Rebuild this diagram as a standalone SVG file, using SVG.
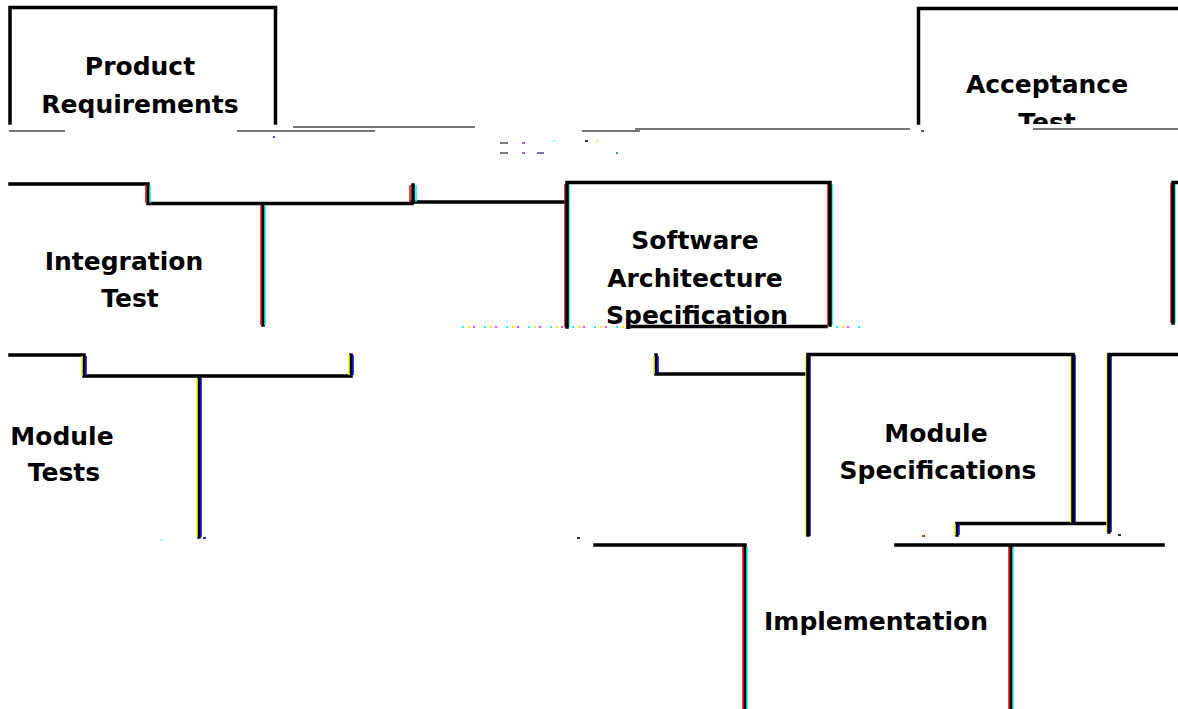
<svg xmlns="http://www.w3.org/2000/svg" width="1178" height="709" viewBox="0 0 1178 709">
<style>
.ln{fill:none;stroke:#000;stroke-width:3.5;stroke-linecap:square}
.gr{fill:none;stroke:#777;stroke-width:2}
.fr{fill:none;stroke:#e00;stroke-width:1.5}
.fc{fill:none;stroke:#0ee;stroke-width:1.5}
.fy{fill:none;stroke:#ee0;stroke-width:1.5}
.fb{fill:none;stroke:#00e;stroke-width:1.5}
.t{font-family:"DejaVu Sans",Verdana,sans-serif;font-weight:bold;font-size:25px;fill:#000;text-anchor:middle}
</style>
<defs>
<clipPath id="clipAcc"><rect x="900" y="0" width="278" height="124"/></clipPath>
</defs>
<rect width="1178" height="709" fill="#fff"/>
<g id="connectors">
<path class="gr" d="M9,131 H65 M237,131 H375 M293,127 H475 M582,131 H640 M635,129 H905 M800,129 H910 M1033,129 H1178"/>
<path class="ln" d="M10,184 H148 V203.5 H412 M263,203.5 V325 M412,202 H567"/>
<path class="ln" stroke-width="5" d="M413,185 V202"/>
<path class="ln" d="M10,355 H84 V376 H351 V355 M199,376 V537"/>
<path class="ln" d="M656,355 V374 H808"/>
<path class="ln" d="M957,535 V523.5 H1109"/>
<path class="ln" d="M595,545 H745 V709 M896,545 H1163 M1011,545 V709"/>
<path class="fr" d="M261,205 V325 M146,185 V203 M410,185 V202 M565,184 V327 M828,184 V325 M1171,183 V323 M743,547 V709 M1009,547 V709"/>
<path class="fc" d="M265,205 V325 M150,185 V203 M416,185 V202 M569,184 V327 M832,184 V325 M1175,183 V323 M747,547 V709 M1013,547 V709"/>
<path class="fy" d="M82,356 V376 M349,355 V375 M197,378 V537 M654,356 V374 M806,355 V536 M1071,355 V523 M955,524 V535 M1107,355 V532"/>
<path class="fb" d="M86,356 V376 M353,355 V375 M201,378 V537 M658,356 V374 M810,355 V536 M1075,355 V523 M959,524 V535 M1111,355 V532"/>
<path stroke="#0ff" stroke-width="2" stroke-dasharray="2 20" d="M462,327 H862" fill="none"/>
<path stroke="#f4f" stroke-width="2" stroke-dasharray="2 20" d="M473,327 H862" fill="none"/>
<path stroke="#ee0" stroke-width="2" stroke-dasharray="2 20" d="M468,327 H862" fill="none"/>
<g fill="#777">
<rect x="500" y="142" width="8" height="2"/>
<rect x="500" y="152" width="8" height="2"/>
<rect x="537" y="152" width="7" height="2" fill="#77a"/>
<rect x="522" y="142" width="3" height="2" fill="#a6c"/>
<rect x="522" y="152" width="3" height="2" fill="#a6c"/>
<rect x="553" y="140" width="2" height="2" fill="#8ff"/>
<rect x="585" y="140" width="3" height="2" fill="#333"/>
<rect x="596" y="140" width="2" height="2" fill="#ee6"/>
<rect x="616" y="152" width="2" height="2" fill="#488"/>
<rect x="273" y="136" width="2" height="2" fill="#44f"/>
<rect x="921" y="130" width="3" height="2" fill="#555"/>
<rect x="577" y="537" width="3" height="2" fill="#333"/>
<rect x="922" y="535" width="3" height="2" fill="#c33"/>
<rect x="1118" y="534" width="3" height="2" fill="#333"/>
<rect x="203" y="537" width="3" height="2" fill="#33a"/>
<rect x="160" y="539" width="2" height="2" fill="#8ff"/>
</g>
</g>
<g id="product-requirements">
<path class="ln" d="M10,123 V7.5 H275.5 V123"/>
<text class="t" x="140" y="75">Product</text>
<text class="t" x="140" y="113">Requirements</text>
</g>
<g id="acceptance-test">
<path class="ln" d="M918.5,123 V8.5 H1178"/>
<g clip-path="url(#clipAcc)">
<text class="t" x="1047" y="93">Acceptance</text>
<text class="t" x="1047" y="131">Test</text>
</g>
</g>
<g id="integration-test">
<text class="t" x="124" y="270">Integration</text>
<text class="t" x="130" y="307">Test</text>
</g>
<g id="software-architecture-specification">
<path class="ln" d="M567,327 V182.5 H830 V325"/>
<text class="t" x="695" y="249">Software</text>
<text class="t" x="695" y="287">Architecture</text>
<text class="t" x="697" y="324">Specification</text>
<path class="ln" stroke-width="2" d="M632,326.5 H826"/>
</g>
<g id="right-box">
<path class="ln" d="M1173,323 V182.5 H1178"/>
</g>
<g id="module-tests">
<text class="t" x="62" y="445">Module</text>
<text class="t" x="64" y="481">Tests</text>
</g>
<g id="module-specifications">
<path class="ln" d="M808,535 V354.5 H1073 V523"/>
<path class="ln" d="M1109,532 V354.5 H1178"/>
<text class="t" x="936" y="442">Module</text>
<text class="t" x="938" y="479">Specifications</text>
</g>
<g id="implementation">
<text class="t" x="876" y="630">Implementation</text>
</g>
</svg>
